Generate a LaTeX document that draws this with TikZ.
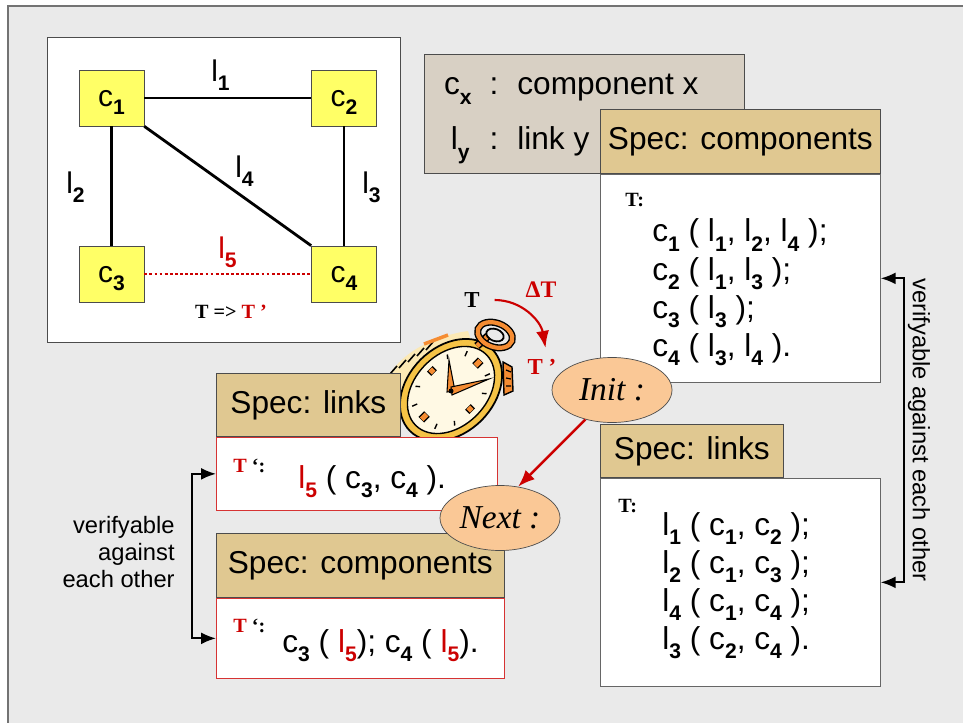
\documentclass[tikz,border=0pt]{standalone}
\usepackage{fontspec}
\setmainfont{Liberation Serif}
\setsansfont{Liberation Sans}
\usetikzlibrary{arrows.meta, positioning, shapes.geometric}

\definecolor{panelgray}{RGB}{234,234,234}
\definecolor{compyellow}{RGB}{255,255,102}
\definecolor{legendtan}{RGB}{216,208,196}
\definecolor{papyrus}{RGB}{224,200,145}
\definecolor{peach}{RGB}{250,200,150}
\definecolor{specred}{RGB}{204,0,0}
\definecolor{clockgold}{RGB}{245,195,70}
\definecolor{clockface}{RGB}{255,249,228}
\definecolor{clockorange}{RGB}{245,140,50}

% bold lowered index, as in c_1 or l_5
\newcommand{\ix}[1]{\raisebox{-.55ex}{\fontsize{12}{12}\selectfont\bfseries #1}}

\begin{document}
\begin{tikzpicture}[
    x=0.2mm, y=-0.2mm, font=\sffamily,
    comp box/.style = {
        draw=black!70,
        fill=compyellow,
        minimum width=13mm,
        minimum height=11.2mm,
        text depth=0pt,
        font=\sffamily\fontsize{17}{20}\selectfont
    },
    link/.style = {line width=1.6pt},
    link label/.style = {anchor=base west, inner sep=0pt, font=\sffamily\fontsize{17}{20}\selectfont},
    spec head/.style = {
        draw=black!70,
        fill=papyrus,
        anchor=south west,
        inner sep=0pt,
        font=\sffamily\fontsize{18}{22}\selectfont
    },
    spec body/.style = {draw=#1, fill=white, anchor=north west, inner sep=0pt},
    spec body/.default = black!60,
    spec line/.style = {anchor=base west, inner sep=0pt, font=\sffamily\fontsize{18}{22}\selectfont},
    time tag/.style = {anchor=base west, inner sep=0pt, font=\rmfamily\bfseries\fontsize{11.5}{13}\selectfont},
    state oval/.style = {
        ellipse,
        draw=black!70,
        fill=peach,
        inner sep=1pt,
        minimum width=24mm,
        minimum height=13mm,
        font=\rmfamily\itshape\fontsize{19}{22}\selectfont
    },
    check arrow/.style = {{Latex[length=3mm,width=2.4mm]}-{Latex[length=3mm,width=2.4mm]}, line width=1.1pt},
    red arrow/.style = {-{Latex[length=3.4mm,width=2.6mm]}, specred, line width=1.4pt},
    side text/.style = {inner sep=0pt, font=\sffamily\fontsize{13.5}{15.5}\selectfont}
]

\useasboundingbox (0,0) rectangle (963,723);
\fill[panelgray] (8,6) rectangle (963,723);
\draw[black!55, line width=1pt] (8,723) -- (8,6) -- (963,6);

% network of components and links
\node [draw=black!70, fill=white, anchor=north west, inner sep=0pt,
       minimum width=70.6mm, minimum height=61mm] (netbox) at (47,37) {};

\node [comp box] (c1) at (111.5,98) {c\ix{1}};
\node [comp box] (c2) at (344,98) {c\ix{2}};
\node [comp box] (c3) at (111.5,274) {c\ix{3}};
\node [comp box] (c4) at (344,274) {c\ix{4}};

\draw[link] (c1) -- (c2);
\draw[link] (c1) -- (c3);
\draw[link] (c2) -- (c4);
\draw[link] (c1.south east) -- (c4.north west);
\draw[specred, line width=1.6pt, dash pattern=on 1.6pt off 1.3pt] (c3) -- (c4);

\node [link label] (l1) at (211,82) {l\ix{1}};
\node [link label] (l2) at (66,194) {l\ix{2}};
\node [link label] (l3) at (362,194) {l\ix{3}};
\node [link label] (l4) at (235,178) {l\ix{4}};
\node [link label, text=specred] (l5) at (218,259) {l\ix{5}};
\node [font=\rmfamily\bfseries\fontsize{11.5}{13}\selectfont, anchor=base] (swap) at (231,318)
    {T =\textgreater{} \textcolor{specred}{T ’}};

% legend
\node [draw=black!70, fill=legendtan, anchor=north west, inner sep=0pt,
       minimum width=64mm, minimum height=23.8mm] (legend) at (424,54) {};
\node [spec line, anchor=base east] (cx) at (472,95) {c\ix{x}};
\node [spec line, anchor=base] (cxsep) at (494,95) {:};
\node [spec line] (cxtext) at (517,95) {component x};
\node [spec line, anchor=base east] (ly) at (470,150) {l\ix{y}};
\node [spec line, anchor=base] (lysep) at (494,150) {:};
\node [spec line] (lytext) at (517,150) {link y};

% components at T
\node [spec body, minimum width=56mm, minimum height=41.6mm] (rcbody) at (600,174) {};
\node [spec head, minimum width=56mm, minimum height=12.8mm] (rchead) at (rcbody.north west) {Spec: components};
\node [time tag] (rctag) at (625,207) {T:};
\foreach \row [count=\i] in {
    {c\ix{1} ( l\ix{1}, l\ix{2}, l\ix{4} );},
    {c\ix{2} ( l\ix{1}, l\ix{3} );},
    {c\ix{3} ( l\ix{3} );},
    {c\ix{4} ( l\ix{3}, l\ix{4} ).}}
    \node [spec line] (rc\i) at (652,{242+38*(\i-1)}) {\row};

% links at T
\node [spec body, minimum width=56mm, minimum height=41.6mm] (rlbody) at (600,478) {};
\node [spec head, minimum width=36.6mm, minimum height=10.6mm] (rlhead) at (rlbody.north west) {Spec: links};
\node [time tag] (rltag) at (618,512) {T:};
\foreach \row [count=\i] in {
    {l\ix{1} ( c\ix{1}, c\ix{2} );},
    {l\ix{2} ( c\ix{1}, c\ix{3} );},
    {l\ix{4} ( c\ix{1}, c\ix{4} );},
    {l\ix{3} ( c\ix{2}, c\ix{4} ).}}
    \node [spec line] (rl\i) at (662,{535+38*(\i-1)}) {\row};

% stopwatch
\fill[clockface!70!clockgold] (378,404) .. controls (383,365) and (420,338) .. (468,331)
    -- (474,350) .. controls (432,362) and (410,384) .. (402,414) -- cycle;
\foreach \s in {0,...,4}
    \draw[line width=0.9pt] ({390+9*\s},{374-6*\s}) -- ++(7,-8);
\draw[clockorange, line width=2pt] (424,344) -- (448,335);
\filldraw[fill=clockgold, draw=black, line width=1pt, rotate around={-45:(451,390)}]
    (451,390) ellipse [x radius=43, y radius=58];
\filldraw[fill=clockface, draw=black, line width=0.8pt, rotate around={-45:(451,390)}]
    (451,390) ellipse [x radius=36, y radius=50];
\begin{scope}[shift={(451,390)}, rotate=-45]
    \foreach \a in {0,90,180,270} {
        \draw[line width=4.6pt] ({30*cos(\a)},{42*sin(\a)}) -- ({24*cos(\a)},{34*sin(\a)});
        \draw[clockorange, line width=3pt] ({29.5*cos(\a)},{41.5*sin(\a)}) -- ({24.5*cos(\a)},{34.5*sin(\a)});
    }
    \foreach \a in {30,60,120,150,210,240,300,330}
        \draw[line width=0.8pt] ({32*cos(\a)},{45*sin(\a)}) -- ({28*cos(\a)},{39*sin(\a)});
\end{scope}
\filldraw[fill=clockorange, draw=black, line width=0.6pt] (447,392) -- (449,360) -- (455,391) -- cycle;
\filldraw[fill=clockorange, draw=black, line width=0.6pt] (451,387) -- (489,379) -- (452,395) -- cycle;
\fill (451,391) circle [radius=2.5];
\draw[line width=4.5pt] (477,346) -- (488,336);
\draw[clockorange, line width=2.6pt] (477,346) -- (488,336);
\draw[line width=4pt, rotate around={-20:(495,335)}] (495,335) ellipse [x radius=18, y radius=12];
\draw[clockorange, line width=2.4pt, rotate around={-20:(495,335)}] (495,335) ellipse [x radius=18, y radius=12];
\draw[line width=1pt, rotate around={-20:(495,335)}] (495,335) ellipse [x radius=9, y radius=6];
\filldraw[fill=clockorange, draw=black, line width=0.8pt] (503,362) -- (512,367) -- (513,391) -- (504,395) -- cycle;
\draw[line width=0.7pt] (506,370) -- (511,372) (506,378) -- (511,379) (506,386) -- (511,386);

\node [font=\rmfamily\bfseries\fontsize{13}{15}\selectfont] (tnow) at (472,300) {T};
\node [font=\rmfamily\bfseries\fontsize{13.5}{15}\selectfont, text=specred] (delta) at (541,290) {ΔT};
\node [font=\rmfamily\bfseries\fontsize{13}{15}\selectfont, text=specred] (tlater) at (542,367) {T ’};
\draw[red arrow, line width=1.2pt] ([xshift=5pt]tnow.east) to[out=0, in=100] ([xshift=2pt, yshift=3pt]tlater.north);

% links at T'
\node [spec body=specred!80, minimum width=56.2mm, minimum height=14.6mm] (llbody) at (216,437) {};
\node [spec head, minimum width=36.8mm, minimum height=12.6mm] (llhead) at (llbody.north west) {Spec: links};
\node [time tag] (lltag) at (233,472) {\textcolor{specred}{T} ‘:};
\node [spec line] (ll1) at (298,488) {\textcolor{specred}{l\ix{5}} ( c\ix{3}, c\ix{4} ).};

% components at T'
\node [spec body=specred!80, minimum width=57.6mm, minimum height=16mm] (lcbody) at (216,598) {};
\node [spec head, minimum width=57.6mm, minimum height=12.8mm] (lchead) at (lcbody.north west) {Spec: components};
\node [time tag] (lctag) at (233,632) {\textcolor{specred}{T} ‘:};
\node [spec line] (lc1) at (282,652)
    {c\ix{3} ( \textcolor{specred}{l\ix{5}}); c\ix{4} ( \textcolor{specred}{l\ix{5}}).};

% steps
\node [state oval] (init) at (612,390) {Init :};
\node [state oval] (next) at (500,518) {Next :};
\draw[red arrow] (init.228) -- (next.60);

% cross checks
\draw[check arrow] (llbody.west) -- ++(-24,0) |- (lcbody.west);
\node [side text, align=right, anchor=east] (leftnote) at (175,552) {verifyable\\against\\each other};
\draw[check arrow] (rcbody.east) -- ++(23,0) |- (rlbody.east);
\node [side text, rotate=-90] (rightnote) at (919,430) {verifyable against each other};

\end{tikzpicture}
\end{document}
